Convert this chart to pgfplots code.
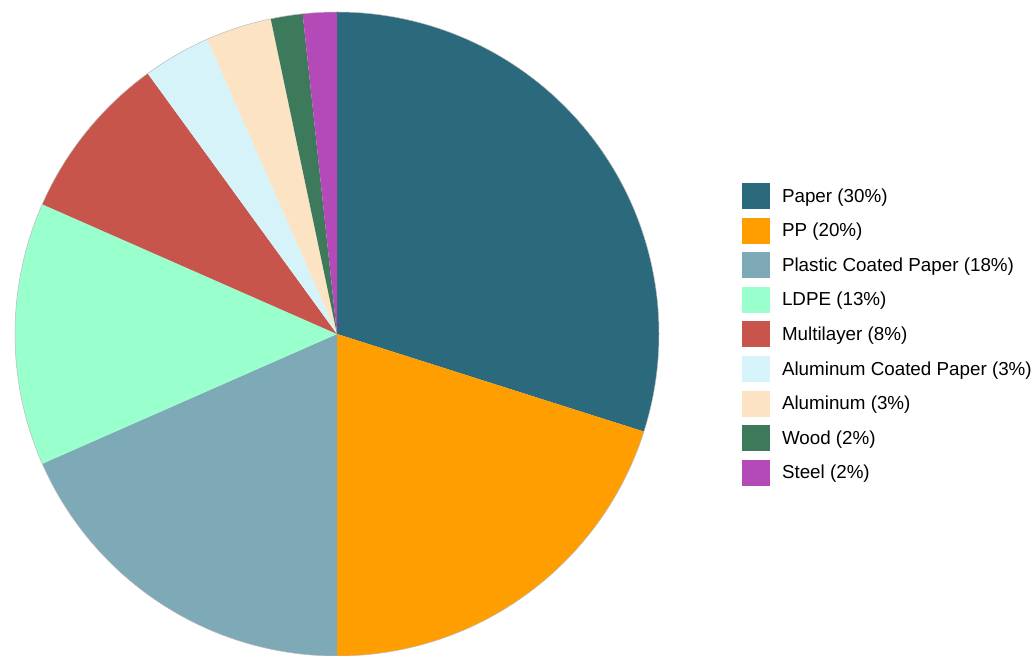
\documentclass[border=0pt]{standalone}
\usepackage{pgfplots}
\usepackage{pgfplotstable}
\pgfplotsset{compat=1.18}
\usepackage{fontspec}
\setmainfont{Liberation Sans}
\definecolor{cPaper}{HTML}{2B697C}
\definecolor{cPP}{HTML}{FF9E00}
\definecolor{cPCP}{HTML}{7EAAB8}
\definecolor{cLDPE}{HTML}{99FFCC}
\definecolor{cMulti}{HTML}{C8554B}
\definecolor{cACP}{HTML}{D6F3FA}
\definecolor{cAlu}{HTML}{FCE3C4}
\definecolor{cWood}{HTML}{3D7A5C}
\definecolor{cSteel}{HTML}{B44AB8}
\pgfplotstableread{
value col
29.9 cPaper
20.1 cPP
18.4 cPCP
13.2 cLDPE
8.4 cMulti
3.4 cACP
3.3 cAlu
1.6 cWood
1.7 cSteel
}\piedata
\begin{document}
\begin{tikzpicture}
\useasboundingbox (0,0) rectangle (1034pt,656pt);
\begin{axis}[at={(0,0)}, anchor=south west, scale only axis,
  width=1034pt, height=656pt, xmin=0, xmax=1034, ymin=0, ymax=656,
  hide axis, clip=false,
  legend style={at={(0.7176,0.7276)}, anchor=north west, draw=none, fill=none,
    inner sep=0pt, outer sep=0pt, font=\fontsize{18.8}{22}\selectfont, row sep=0pt,
    nodes={inner sep=0pt, minimum height=34.6pt},
    /tikz/every odd column/.append style={column sep=12pt}},
  legend cell align=left,
  legend image code/.code={\fill[#1] (0pt,-13pt) rectangle (28pt,13pt);},
]
\pgfplotstablegetrowsof{\piedata}
\pgfmathtruncatemacro\lastrow{\pgfplotsretval-1}
\def\cum{0}
\pgfplotsforeachungrouped \i in {0,...,\lastrow}{%
  \pgfplotstablegetelem{\i}{value}\of\piedata \let\val\pgfplotsretval
  \pgfplotstablegetelem{\i}{col}\of\piedata \let\slicecol\pgfplotsretval
  \pgfmathsetmacro\sa{90-3.6*\cum}%
  \pgfmathsetmacro\cum{\cum+\val}%
  \pgfmathsetmacro\ea{90-3.6*\cum}%
  \edef\temp{\noexpand\fill[\slicecol] (axis cs:337,322) -- ++(\sa:322pt) arc[start angle=\sa, end angle=\ea, radius=322pt] -- cycle;}%
  \temp
  \edef\temp{\noexpand\addlegendimage{draw=none, fill=\slicecol}}%
  \temp
}
\draw[gray!55, line width=0.5pt] (axis cs:337,322) circle[radius=322pt];
\legend{Paper (30\%), PP (20\%), Plastic Coated Paper (18\%), LDPE (13\%), Multilayer (8\%), Aluminum Coated Paper (3\%), Aluminum (3\%), Wood (2\%), Steel (2\%)}
\end{axis}
\end{tikzpicture}
\end{document}
